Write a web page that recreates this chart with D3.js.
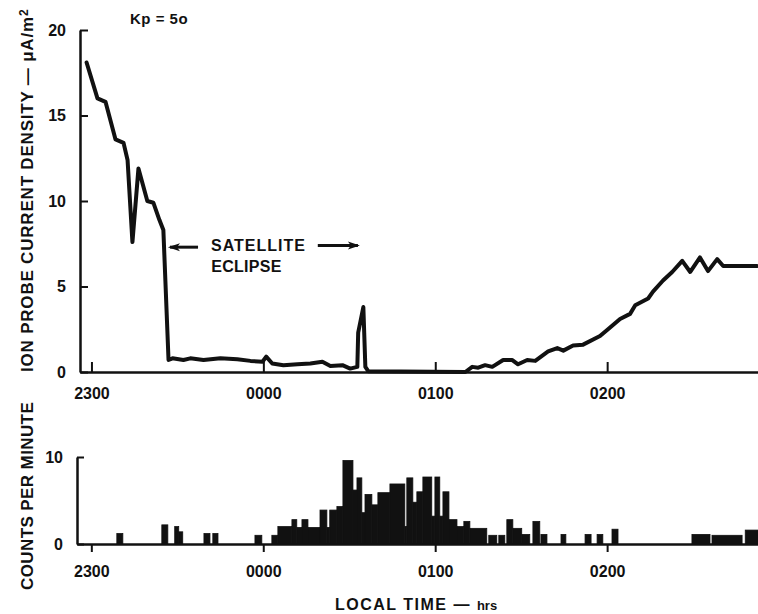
<!DOCTYPE html>
<html>
<head>
<meta charset="utf-8">
<script src="https://cdn.jsdelivr.net/npm/d3@7"></script>
<style>
  body { margin: 0; background: #fff; }
  svg { display: block; }
  text { font-family: "Liberation Sans", Arial, sans-serif; font-weight: bold; fill: #111; }
</style>
</head>
<body>
<svg></svg>
<script>
const width = 758;
const height = 614;

// time in minutes after 2300 local time
const ionTime = [-1.7, 2.1, 4.9, 8.4, 11.2, 12.6, 14.3, 16.4, 19.5, 21.6, 23.7, 25.1, 26.9, 28.3,
  32.1, 34.5, 39.1, 45.0, 50.9, 55.5, 59.7, 61.0, 63.1, 67.0, 71.9, 76.4, 80.6, 83.4, 87.6, 90.3,
  92.8, 93.1, 94.9, 95.6, 96.6, 130.5, 132.9, 135.0, 137.4, 139.9, 143.7, 146.9, 148.9, 152.1,
  154.9, 159.4, 162.6, 164.7, 168.1, 171.6, 177.5, 180.3, 184.5, 188.0, 189.8, 194.3, 196.0,
  199.5, 202.7, 206.2, 209.0, 212.4, 215.2, 218.4, 220.5, 232.3];
const ionDensity = [18.1, 16.0, 15.8, 13.6, 13.4, 12.4, 7.6, 11.9, 10.0, 9.9, 8.9, 8.3, 0.7, 0.8,
  0.7, 0.8, 0.7, 0.8, 0.75, 0.65, 0.6, 0.9, 0.5, 0.4, 0.45, 0.5, 0.6, 0.35, 0.4, 0.2,
  0.3, 2.3, 3.8, 0.3, 0.05, 0.0, 0.3, 0.25, 0.4, 0.3, 0.7, 0.7, 0.45, 0.7,
  0.65, 1.2, 1.4, 1.25, 1.55, 1.6, 2.1, 2.5, 3.1, 3.4, 3.9, 4.3, 4.7,
  5.35, 5.85, 6.5, 5.85, 6.7, 5.9, 6.6, 6.2, 6.2];

// counts per minute, drawn as runs [start, end) in minutes after 2300
const countStart = [8.9, 24.6, 29.1, 30.5, 39.3, 42.4, 57.1, 63.0, 65.1, 70.0, 71.7, 73.5, 75.6,
  79.8, 82.2, 83.2, 85.7, 87.8, 91.3, 92.7, 94.4, 95.5, 97.9, 100.0, 104.2, 109.4, 110.1, 112.2,
  113.6, 115.7, 118.8, 119.9, 121.6, 122.7, 124.8, 127.6, 130.0, 132.1, 138.7, 142.2, 145.0,
  147.1, 150.2, 154.1, 156.9, 163.9, 172.3, 176.5, 181.7, 209.6, 216.6, 228.2];
const countEnd = [11.0, 26.7, 30.5, 31.9, 41.4, 44.2, 59.5, 65.1, 70.0, 71.7, 73.5, 75.6, 79.8,
  82.2, 83.2, 85.7, 87.8, 91.3, 92.7, 94.4, 95.5, 97.9, 100.0, 104.2, 109.4, 110.1, 112.2, 113.6,
  115.7, 118.8, 119.9, 121.6, 122.7, 124.8, 127.6, 130.0, 132.1, 138.0, 141.5, 144.3, 147.1,
  150.2, 153.0, 156.5, 159.0, 165.6, 174.4, 178.5, 183.8, 215.9, 227.1, 233.0];
const countRate = [1.2, 2.2, 2.0, 1.4, 1.2, 1.2, 1.0, 1.0, 2.0, 2.8, 1.9, 2.8, 1.9,
  3.9, 1.9, 3.9, 4.3, 9.6, 6.2, 7.6, 3.6, 5.7, 4.5, 5.9, 6.9, 2.0, 7.6, 4.8,
  6.0, 7.7, 3.2, 7.7, 3.2, 6.0, 2.8, 2.0, 2.6, 1.8, 1.0, 1.0, 2.8,
  1.8, 1.1, 2.6, 1.1, 1.1, 1.1, 1.1, 1.7, 1.1, 1.0, 1.6];

const tickMinutes = [0, 60, 120, 180];
const tickLabels = ["2300", "0000", "0100", "0200"];
const ionTicks = [0, 5, 10, 15, 20];
const countTicks = [0, 10];

const svg = d3.select("svg").attr("width", width).attr("height", height);

const x = d3.scaleLinear().domain([-4, 233]).range([80, 759]);
const xb = d3.scaleLinear().domain([-5, 233]).range([77, 759]);
const yTop = d3.scaleLinear().domain([0, 20]).range([372, 30]);
const yBot = d3.scaleLinear().domain([0, 10]).range([544, 457]);

// arrow head
svg.append("defs").append("marker")
  .attr("id", "head")
  .attr("viewBox", "0 -5 12 10")
  .attr("refX", 10).attr("refY", 0)
  .attr("orient", "auto")
  .attr("markerUnits", "userSpaceOnUse")
  .attr("markerWidth", 14).attr("markerHeight", 10)
  .append("path")
  .attr("d", "M0,-4 L12,0 L0,4 L3,0 Z")
  .attr("fill", "#111");

function styleAxis(g) {
  g.select(".domain").attr("stroke", "#111").attr("stroke-width", 2.5);
  g.selectAll(".tick line").attr("stroke", "#111").attr("stroke-width", 2);
  g.selectAll(".tick text").style("font-size", "16px").attr("fill", "#111");
}

// ---- top panel: ion probe current density
svg.append("g")
  .attr("transform", `translate(0,${yTop(0)})`)
  .call(d3.axisBottom(x).tickValues(tickMinutes).tickFormat((d, i) => tickLabels[i])
    .tickSizeInner(-10).tickSizeOuter(0).tickPadding(16))
  .call(styleAxis);

svg.append("g")
  .attr("transform", `translate(${x.range()[0]},0)`)
  .call(d3.axisLeft(yTop).tickValues(ionTicks).tickSizeInner(-8).tickSizeOuter(0).tickPadding(14))
  .call(styleAxis);

const ionData = ionTime.map((t, i) => ({ t, v: ionDensity[i] }));
svg.append("path")
  .datum(ionData)
  .attr("fill", "none")
  .attr("stroke", "#111")
  .attr("stroke-width", 4)
  .attr("stroke-linejoin", "round")
  .attr("stroke-linecap", "round")
  .attr("d", d3.line().x(d => x(d.t)).y(d => yTop(d.v)));

// eclipse annotation
svg.append("line")
  .attr("x1", x(37.2)).attr("y1", yTop(7.3))
  .attr("x2", x(27.4)).attr("y2", yTop(7.3))
  .attr("stroke", "#111").attr("stroke-width", 3)
  .attr("marker-end", "url(#head)");
svg.append("line")
  .attr("x1", x(79)).attr("y1", yTop(7.4))
  .attr("x2", x(93)).attr("y2", yTop(7.4))
  .attr("stroke", "#111").attr("stroke-width", 3)
  .attr("marker-end", "url(#head)");
svg.append("text")
  .attr("x", x(58.3)).attr("y", yTop(7.08))
  .attr("text-anchor", "middle")
  .style("font-size", "16px").style("letter-spacing", "1px")
  .text("SATELLITE");
svg.append("text")
  .attr("x", x(54.1)).attr("y", yTop(5.85))
  .attr("text-anchor", "middle")
  .style("font-size", "16px").style("letter-spacing", "0.3px")
  .text("ECLIPSE");

svg.append("text")
  .attr("x", 130).attr("y", 24)
  .style("font-size", "15px").style("letter-spacing", "0.5px")
  .text("Kp = 5o");

svg.append("text")
  .attr("transform", "translate(33,372) rotate(-90)")
  .style("font-size", "17px").style("letter-spacing", "0.8px")
  .text("ION PROBE CURRENT DENSITY — μA/m")
  .append("tspan")
  .attr("dy", "-0.45em")
  .style("font-size", "12px")
  .text("2");

// ---- bottom panel: counts per minute
svg.append("g")
  .selectAll("rect")
  .data(countRate)
  .join("rect")
  .attr("x", (d, i) => xb(countStart[i]))
  .attr("width", (d, i) => xb(countEnd[i]) - xb(countStart[i]))
  .attr("y", d => yBot(d))
  .attr("height", d => yBot(0) - yBot(d))
  .attr("fill", "#111")
  .attr("stroke", "#111")
  .attr("stroke-width", 0.8);

svg.append("g")
  .attr("transform", `translate(0,${yBot(0)})`)
  .call(d3.axisBottom(xb).tickValues(tickMinutes).tickFormat((d, i) => tickLabels[i])
    .tickSizeInner(8).tickSizeOuter(0).tickPadding(14))
  .call(styleAxis);

svg.append("g")
  .attr("transform", `translate(${xb.range()[0]},0)`)
  .call(d3.axisLeft(yBot).tickValues(countTicks).tickSizeInner(-7).tickSizeOuter(0).tickPadding(14))
  .call(styleAxis);

svg.append("text")
  .attr("transform", "translate(33,590) rotate(-90)")
  .style("font-size", "17px").style("letter-spacing", "0.4px")
  .text("COUNTS PER MINUTE");

svg.append("text")
  .attr("x", 335).attr("y", 610)
  .style("font-size", "16px").style("letter-spacing", "1.5px")
  .text("LOCAL TIME — ")
  .append("tspan")
  .style("font-size", "13px").style("letter-spacing", "0px")
  .text("hrs");
</script>
</body>
</html>
